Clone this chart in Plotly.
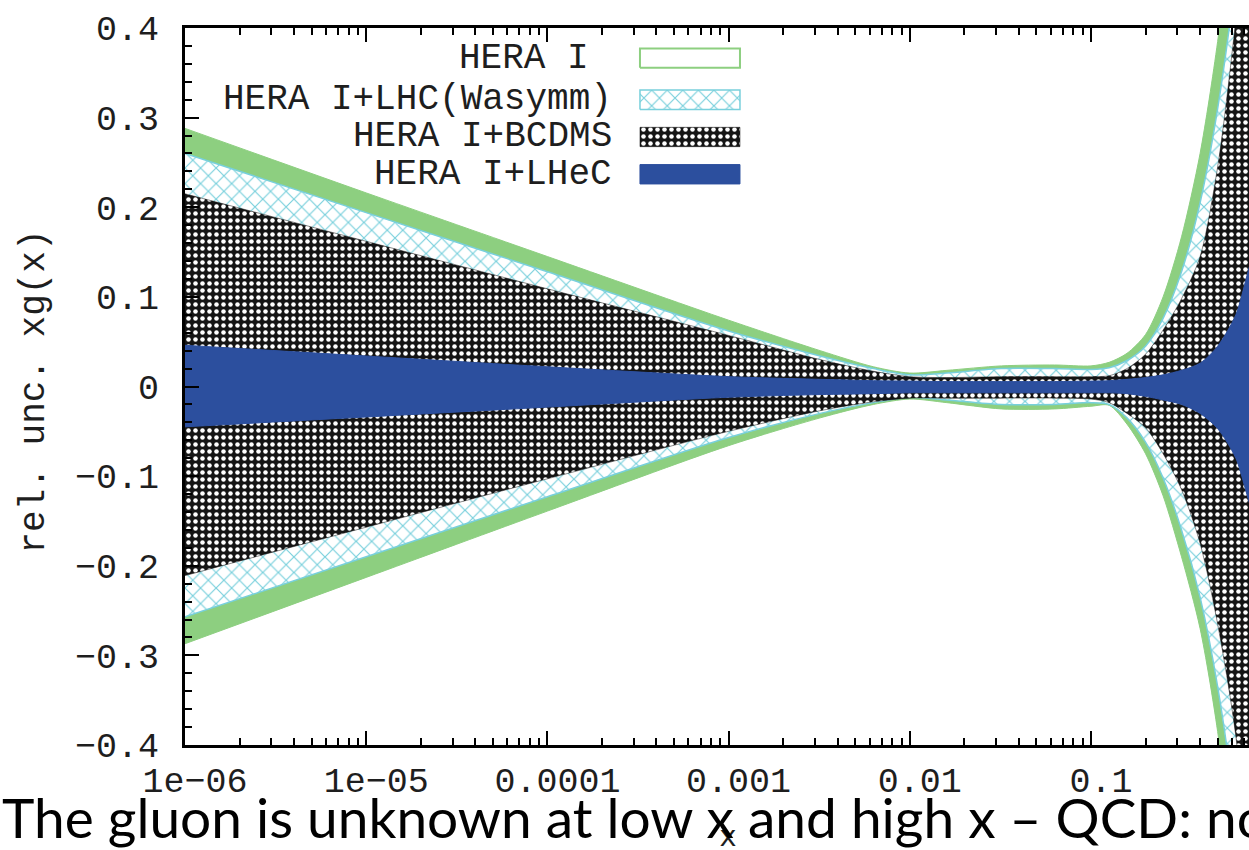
import plotly.graph_objects as go

# x grid shared by all uncertainty bands
x_vals = [1e-6, 1e-5, 1e-4, 1e-3, 0.0032, 0.0063, 0.01, 0.016, 0.032, 0.063,
          0.1, 0.126, 0.158, 0.2, 0.25, 0.316, 0.4, 0.5, 0.63, 0.79]

# relative uncertainty of xg(x): upper / lower band edges
hera_up = [0.288, 0.216, 0.145, 0.074, 0.040, 0.022, 0.015, 0.018, 0.023, 0.024,
           0.023, 0.027, 0.037, 0.058, 0.100, 0.167, 0.260, 0.385, 0.56, 0.78]
hera_lo = [-0.287, -0.213, -0.139, -0.066, -0.035, -0.020, -0.014, -0.018, -0.025, -0.025,
           -0.022, -0.021, -0.042, -0.075, -0.122, -0.19, -0.27, -0.385, -0.56, -0.78]

lhc_up = [0.260, 0.194, 0.128, 0.062, 0.034, 0.020, 0.013, 0.015, 0.020, 0.020,
          0.019, 0.021, 0.029, 0.045, 0.076, 0.128, 0.205, 0.31, 0.46, 0.66]
lhc_lo = [-0.257, -0.190, -0.123, -0.057, -0.030, -0.018, -0.012, -0.015, -0.020, -0.020,
          -0.018, -0.020, -0.035, -0.062, -0.102, -0.16, -0.235, -0.335, -0.48, -0.68]

bcdms_up = [0.215, 0.162, 0.109, 0.057, 0.030, 0.017, 0.011, 0.010, 0.011, 0.011,
            0.011, 0.012, 0.020, 0.036, 0.063, 0.098, 0.145, 0.245, 0.41, 0.62]
bcdms_lo = [-0.211, -0.157, -0.103, -0.050, -0.027, -0.017, -0.013, -0.013, -0.013, -0.013,
            -0.014, -0.018, -0.030, -0.046, -0.075, -0.115, -0.175, -0.265, -0.39, -0.60]

lhec_up = [0.046, 0.034, 0.022, 0.011, 0.008, 0.0065, 0.006, 0.0055, 0.0055, 0.0055,
           0.006, 0.0065, 0.008, 0.010, 0.013, 0.018, 0.026, 0.045, 0.080, 0.145]
lhec_lo = [-0.045, -0.034, -0.023, -0.012, -0.009, -0.008, -0.007, -0.007, -0.007, -0.007,
           -0.007, -0.007, -0.008, -0.011, -0.015, -0.020, -0.030, -0.047, -0.080, -0.140]

series_names = ["HERA I", "HERA I+LHC(Wasymm)", "HERA I+BCDMS", "HERA I+LHeC"]

x_tick_vals = [1e-6, 1e-5, 1e-4, 1e-3, 1e-2, 1e-1]
x_tick_text = ["1e\u221206", "1e\u221205", "0.0001", "0.001", "0.01", "0.1"]
y_tick_vals = [-0.4, -0.3, -0.2, -0.1, 0.0, 0.1, 0.2, 0.3, 0.4]
y_tick_text = ["\u22120.4", "\u22120.3", "\u22120.2", "\u22120.1", "0", "0.1", "0.2", "0.3", "0.4"]

GREEN = "#8dcf80"
CYAN = "#78d0dc"
BLUE = "#2c4f9e"
MONO = "Liberation Mono"
TXT = "#1e1e1e"

styles = [
    dict(fillcolor=GREEN, line=dict(color=GREEN, width=1)),
    dict(fillpattern=dict(shape="x", fgcolor=CYAN, bgcolor="white", size=11,
                          solidity=0.2, fillmode="replace"),
         line=dict(color=CYAN, width=1.5)),
    dict(fillpattern=dict(shape=".", fgcolor="white", bgcolor="#151515", size=7,
                          solidity=0.33, fillmode="replace"),
         line=dict(color="#151515", width=0.5)),
    dict(fillcolor=BLUE, line=dict(color=BLUE, width=1)),
]
bands = [(hera_up, hera_lo), (lhc_up, lhc_lo), (bcdms_up, bcdms_lo), (lhec_up, lhec_lo)]

fig = go.Figure()
for name, (up, lo), st in zip(series_names, bands, styles):
    line = dict(st["line"], shape="spline", smoothing=0.8)
    kw = {k: v for k, v in st.items() if k != "line"}
    fig.add_trace(go.Scatter(
        x=x_vals + x_vals[::-1], y=up + lo[::-1], fill="toself", mode="lines",
        line=line, name=name, showlegend=False, hoverinfo="skip", **kw))

# hand-made key: label on the left, swatch on the right (overlay axes in 0..1 units)
key_rows = [0.958, 0.900, 0.848, 0.796]
key_text_x = [0.3815, 0.4032, 0.4032, 0.4032]
sw_x0, sw_x1, sw_h = 0.4276, 0.5216, 0.0135
for name, yc, tx, st in zip(series_names, key_rows, key_text_x, styles):
    kw = {k: v for k, v in st.items() if k != "line"}
    if name == "HERA I":
        kw = dict(fillcolor="white")
        ln = dict(color=GREEN, width=2)
    else:
        ln = st["line"]
    fig.add_trace(go.Scatter(
        x=[sw_x0, sw_x1, sw_x1, sw_x0, sw_x0],
        y=[yc - sw_h, yc - sw_h, yc + sw_h, yc + sw_h, yc - sw_h],
        xaxis="x2", yaxis="y2", fill="toself", mode="lines", line=ln,
        showlegend=False, hoverinfo="skip", **kw))
    fig.add_annotation(x=tx, y=yc, xref="paper", yref="paper", text=name,
                       showarrow=False, xanchor="right", yanchor="middle",
                       font=dict(family=MONO, size=36, color=TXT))

minor_x = [m * 10.0 ** e for e in range(-6, 0) for m in range(2, 10)]

fig.update_layout(
    width=1249, height=850,
    margin=dict(l=185, r=0, t=28, b=105),
    paper_bgcolor="white", plot_bgcolor="white",
    xaxis=dict(type="log", range=[-6, -0.128], tickvals=x_tick_vals, ticktext=x_tick_text,
               ticks="inside", ticklen=14, tickwidth=2, tickcolor="black",
               showline=True, linecolor="black", linewidth=3, mirror="allticks",
               showgrid=False, zeroline=False,
               minor=dict(tickvals=minor_x, ticks="inside", ticklen=7, tickwidth=2,
                          tickcolor="black", showgrid=False),
               tickfont=dict(family=MONO, size=35, color=TXT),
               ticklabelstandoff=2, ticklabelshift=10),
    yaxis=dict(range=[-0.4, 0.4], tickvals=y_tick_vals, ticktext=y_tick_text,
               ticks="inside", ticklen=14, tickwidth=2, tickcolor="black",
               showline=True, linecolor="black", linewidth=3, mirror=False,
               showgrid=False, zeroline=False,
               minor=dict(dtick=0.02, ticks="inside", ticklen=7, tickwidth=2,
                          tickcolor="black", showgrid=False),
               tickfont=dict(family=MONO, size=35, color=TXT),
               ticklabelstandoff=16),
    xaxis2=dict(overlaying="x", range=[0, 1], visible=False),
    yaxis2=dict(overlaying="y", range=[0, 1], visible=False),
)

# axis titles
fig.add_annotation(x=-0.141, y=0.493, xref="paper", yref="paper", text="rel. unc. xg(x)",
                   textangle=-90, showarrow=False, xanchor="center", yanchor="middle",
                   font=dict(family=MONO, size=36, color=TXT))
fig.add_annotation(x=0.5103, y=-0.13, xref="paper", yref="paper", text="x",
                   showarrow=False, xanchor="center", yanchor="middle",
                   font=dict(family=MONO, size=30, color=TXT))

# caption line under the chart
fig.add_annotation(x=-0.1739, y=-0.1, xref="paper", yref="paper",
                   text="The gluon is unknown at low x and high x \u2013 QCD: no",
                   showarrow=False, xanchor="left", yanchor="middle",
                   font=dict(family="Lato", size=55, color="black"))

fig.write_html("out.html")
